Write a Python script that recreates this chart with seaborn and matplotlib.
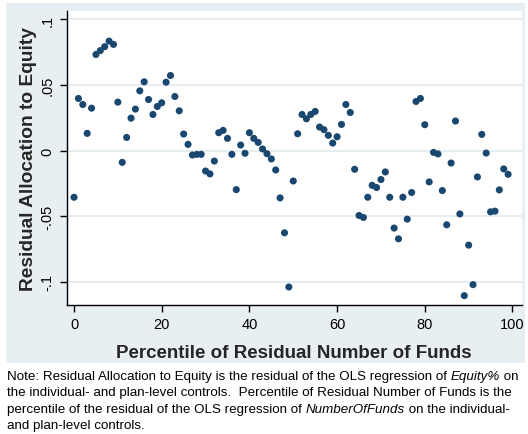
import matplotlib
matplotlib.use("Agg")
import matplotlib.pyplot as plt
import matplotlib.patches as mpatches
import matplotlib.transforms as mtransforms
import pandas as pd
import seaborn as sns

# Percentile of residual number of funds (x) and residual allocation to equity (y)
percentile = list(range(100))
residual_equity = [
    -0.0355, 0.0398, 0.0352, 0.0132, 0.0324, 0.0733, 0.0763, 0.0793, 0.0835, 0.0810,
    0.0370, -0.0089, 0.0101, 0.0248, 0.0317, 0.0456, 0.0525, 0.0390, 0.0276, 0.0337,
    0.0365, 0.0522, 0.0573, 0.0413, 0.0304, 0.0127, 0.0048, -0.0033, -0.0028, -0.0028,
    -0.0155, -0.0177, -0.0079, 0.0137, 0.0155, 0.0094, -0.0028, -0.0297, 0.0043, -0.0020,
    0.0137, 0.0094, 0.0063, 0.0013, -0.0023, -0.0063, -0.0147, -0.0360, -0.0626, -0.1039,
    -0.0231, 0.0129, 0.0276, 0.0243, 0.0276, 0.0299, 0.0180, 0.0160, 0.0117, 0.0058,
    0.0106, 0.0200, 0.0352, 0.0291, -0.0142, -0.0494, -0.0509, -0.0355, -0.0264, -0.0281,
    -0.0220, -0.0162, -0.0355, -0.0590, -0.0672, -0.0355, -0.0522, -0.0319, 0.0375, 0.0398,
    0.0198, -0.0238, -0.0013, -0.0025, -0.0304, -0.0565, -0.0094, 0.0226, -0.0482, -0.1105,
    -0.0720, -0.1021, -0.0200, 0.0124, -0.0018, -0.0466, -0.0461, -0.0299, -0.0139, -0.0180,
]
x_ticks = [0, 20, 40, 60, 80, 100]
y_ticks = [-0.1, -0.05, 0, 0.05, 0.1]
y_tick_labels = ["-.1", "-.05", "0", ".05", ".1"]

df = pd.DataFrame({"pct": percentile, "resid": residual_equity})

sns.set_theme(style="white")
plt.rcParams["font.family"] = ["Liberation Sans", "DejaVu Sans"]

BG = "#e7eff3"
GRID = "#e1eaef"
NAVY = "#1a476f"

W, H = 528, 435
fig = plt.figure(figsize=(W / 100, H / 100), dpi=100)
fig.patch.set_facecolor("white")

# light bluish graph region behind the plot
bg_rect = mpatches.Rectangle((6 / W, 1 - 364 / H), (525 - 6) / W, (364 - 4) / H,
                             transform=fig.transFigure, facecolor=BG,
                             edgecolor="none", zorder=-10)
fig.patches.append(bg_rect)

ax = fig.add_axes([66.7 / W, 1 - 305.7 / H, (521.7 - 66.7) / W, (305.7 - 11.7) / H])
ax.set_zorder(1)
ax.set_facecolor("white")

sns.scatterplot(data=df, x="pct", y="resid", ax=ax, color=NAVY, s=26,
                edgecolor="none", linewidth=0, zorder=3)

ax.set_xlim(-1.67, 102.1)
ax.set_ylim(-0.1174, 0.1067)
ax.set_xticks(x_ticks)
ax.set_xticklabels([str(t) for t in x_ticks])
ax.set_yticks(y_ticks)
ax.set_yticklabels(y_tick_labels, rotation=90, va="center")

for y in y_ticks:
    ax.axhline(y, color=GRID, lw=1.2, zorder=1)

for side in ["top", "right"]:
    ax.spines[side].set_visible(False)
for side in ["left", "bottom"]:
    ax.spines[side].set_color("black")
    ax.spines[side].set_linewidth(1.0)

ax.tick_params(axis="both", which="major", direction="out", length=5, width=1,
               color="black", labelsize=10.5, labelcolor="black", pad=4,
               bottom=True, left=True)

ax.set_xlabel("Percentile of Residual Number of Funds", fontsize=13.5,
              fontweight="bold", labelpad=9)
ax.set_ylabel("Residual Allocation to Equity", fontsize=13.8,
              fontweight="bold", labelpad=2)

# note beneath the chart, with italic variable names
note_lines = [
    [("Note: Residual Allocation to Equity is the residual of the OLS regression of ", "normal"),
     ("Equity%", "italic"), (" on", "normal")],
    [("the individual- and plan-level controls.  Percentile of Residual Number of Funds is the", "normal")],
    [("percentile of the residual of the OLS regression of ", "normal"),
     ("NumberOfFunds", "italic"), (" on the individual-", "normal")],
    [("and plan-level controls.", "normal")],
]
note_size = 9.6
first_baseline = 380
line_step = 16.5
for i, parts in enumerate(note_lines):
    x_px = 7.0
    y_px = H - (first_baseline + line_step * i)
    for txt, style in parts:
        piece = fig.text(x_px, y_px, txt, fontsize=note_size, style=style,
                         va="baseline", ha="left", color="black",
                         transform=mtransforms.IdentityTransform())
        fig.canvas.draw()
        x_px = piece.get_window_extent().x1

fig.savefig("out.png", dpi=100, facecolor="white")
